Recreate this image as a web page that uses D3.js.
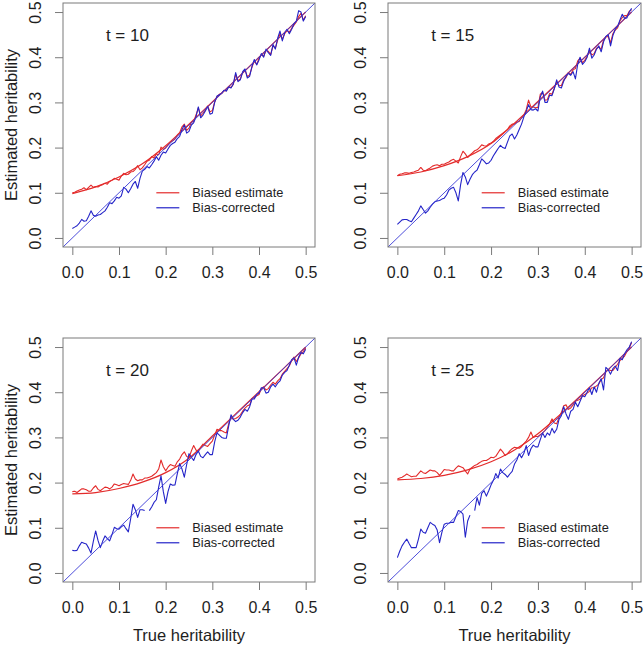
<!DOCTYPE html>
<html><head><meta charset="utf-8">
<script src="https://cdn.jsdelivr.net/npm/d3@7"></script>
<style>html,body{margin:0;padding:0;background:#fff;}svg{display:block;font-family:"Liberation Sans",Arial,sans-serif;}</style>
</head><body><svg id="c" width="644" height="647"></svg>
<script>
// ---- data ----
const panelLabels = ["t = 10", "t = 15", "t = 20", "t = 25"];
const axisTicks = [0.0, 0.1, 0.2, 0.3, 0.4, 0.5];
const smoothX = [0, 0.05, 0.10, 0.15, 0.20, 0.25, 0.30, 0.35, 0.40, 0.45, 0.50];
const noisyX = d3.range(101).map(i => i / 200);

const smooth10 = [0.098, 0.113, 0.135, 0.164, 0.204, 0.252, 0.301, 0.350, 0.400, 0.450, 0.5];
const smooth15 = [0.138, 0.146, 0.160, 0.180, 0.209, 0.254, 0.302, 0.351, 0.400, 0.450, 0.5];
const smooth20 = [0.175, 0.178, 0.187, 0.201, 0.222, 0.254, 0.303, 0.352, 0.401, 0.450, 0.5];
const smooth25 = [0.206, 0.209, 0.216, 0.228, 0.246, 0.272, 0.308, 0.353, 0.401, 0.450, 0.5];

const biased10 = [
 0.100,0.101,0.104,0.106,0.108,0.111,0.107,0.112,0.117,0.112,
 0.114,0.113,0.116,0.118,0.121,0.119,0.125,0.128,0.132,0.130,
 0.128,0.137,0.143,0.140,0.141,0.146,0.147,0.152,0.160,0.151,
 0.155,0.162,0.170,0.172,0.180,0.177,0.186,0.184,0.201,0.196,
 0.199,0.206,0.212,0.215,0.219,0.228,0.233,0.246,0.252,0.238,
 0.243,0.256,0.258,0.272,0.288,0.270,0.276,0.283,0.292,0.279,
 0.282,0.301,0.313,0.318,0.320,0.326,0.326,0.335,0.333,0.340,
 0.362,0.348,0.352,0.366,0.372,0.357,0.361,0.378,0.392,0.384,
 0.397,0.406,0.402,0.415,0.413,0.406,0.425,0.420,0.438,0.452,
 0.440,0.452,0.459,0.455,0.464,0.471,0.478,0.490,0.497,0.482,
 0.492];
const corrected10 = [
 0.021,0.024,0.027,0.033,0.041,0.037,0.038,0.048,0.060,0.050,
 0.048,0.051,0.052,0.056,0.060,0.068,0.078,0.076,0.082,0.090,
 0.088,0.093,0.112,0.108,0.100,0.109,0.119,0.125,0.110,0.132,
 0.148,0.152,0.158,0.155,0.162,0.170,0.180,0.172,0.183,0.190,
 0.188,0.197,0.205,0.209,0.212,0.220,0.225,0.240,0.250,0.232,
 0.236,0.250,0.255,0.268,0.290,0.266,0.272,0.281,0.291,0.274,
 0.276,0.300,0.314,0.317,0.320,0.327,0.325,0.334,0.332,0.341,
 0.366,0.346,0.350,0.368,0.374,0.354,0.358,0.380,0.395,0.383,
 0.394,0.408,0.400,0.418,0.410,0.404,0.428,0.418,0.442,0.458,
 0.436,0.454,0.462,0.452,0.462,0.474,0.480,0.503,0.500,0.480,
 0.490];

const biased15 = [
 0.138,0.141,0.142,0.144,0.144,0.143,0.145,0.146,0.148,0.150,
 0.156,0.150,0.149,0.152,0.155,0.159,0.161,0.162,0.160,0.163,
 0.163,0.166,0.168,0.172,0.174,0.170,0.166,0.180,0.192,0.186,
 0.178,0.184,0.188,0.193,0.195,0.200,0.206,0.204,0.203,0.208,
 0.210,0.214,0.220,0.224,0.228,0.232,0.236,0.240,0.248,0.252,
 0.252,0.256,0.258,0.266,0.272,0.284,0.305,0.290,0.290,0.288,
 0.289,0.318,0.322,0.305,0.306,0.320,0.318,0.332,0.345,0.338,
 0.337,0.350,0.355,0.366,0.362,0.372,0.375,0.392,0.398,0.388,
 0.393,0.402,0.415,0.405,0.408,0.420,0.422,0.418,0.438,0.445,
 0.446,0.432,0.452,0.460,0.465,0.480,0.488,0.492,0.492,0.502,
 0.505];
const corrected15 = [
 0.030,0.035,0.040,0.041,0.041,0.038,0.036,0.044,0.052,0.060,
 0.071,0.063,0.055,0.060,0.068,0.075,0.080,0.082,0.083,0.086,
 0.088,0.095,0.106,0.110,0.112,0.100,0.082,0.118,0.145,0.135,
 0.118,0.130,0.140,0.146,0.150,0.162,0.175,0.170,0.164,0.166,
 0.172,0.182,0.190,0.198,0.205,0.200,0.198,0.212,0.226,0.230,
 0.219,0.228,0.240,0.252,0.268,0.280,0.295,0.284,0.283,0.286,
 0.281,0.312,0.325,0.300,0.300,0.316,0.315,0.330,0.350,0.334,
 0.332,0.347,0.358,0.364,0.360,0.368,0.352,0.385,0.400,0.384,
 0.390,0.400,0.420,0.398,0.405,0.418,0.425,0.412,0.434,0.446,
 0.450,0.425,0.448,0.462,0.468,0.482,0.495,0.486,0.487,0.500,
 0.508];

const biased20 = [
 0.180,0.181,0.178,0.182,0.186,0.186,0.184,0.181,0.181,0.188,
 0.193,0.185,0.182,0.186,0.190,0.189,0.186,0.190,0.197,0.195,
 0.193,0.196,0.198,0.197,0.196,0.205,0.219,0.208,0.204,0.206,
 0.206,0.210,0.210,0.212,0.214,0.218,0.222,0.230,0.250,0.235,
 0.226,0.234,0.240,0.238,0.236,0.246,0.252,0.262,0.268,0.258,
 0.255,0.270,0.282,0.272,0.268,0.278,0.285,0.282,0.280,0.286,
 0.292,0.305,0.318,0.315,0.315,0.312,0.310,0.330,0.345,0.340,
 0.342,0.345,0.350,0.358,0.365,0.370,0.372,0.386,0.388,0.392,
 0.395,0.408,0.412,0.405,0.408,0.416,0.422,0.418,0.425,0.430,
 0.440,0.446,0.452,0.458,0.470,0.478,0.468,0.476,0.485,0.490,
 0.498];
const corrected20 = [
 0.050,0.049,0.050,0.060,0.068,0.066,0.064,0.055,0.044,0.070,
 0.093,0.072,0.056,0.070,0.082,0.076,0.071,0.085,0.101,0.098,
 0.097,0.102,0.106,0.098,0.091,0.120,0.152,0.140,0.123,0.140,
 0.140,0.138,null,0.138,0.146,0.156,0.162,0.190,0.215,0.180,
 0.154,0.180,0.197,0.194,0.195,0.220,0.242,0.230,0.212,0.240,
 0.264,0.256,0.249,0.262,0.270,0.258,0.255,0.262,0.268,0.262,
 0.262,0.290,0.310,0.305,0.300,0.298,0.298,0.325,0.350,0.340,
 0.335,0.338,0.345,0.355,0.362,0.358,0.368,0.385,0.385,0.395,
 0.398,0.410,0.410,0.398,0.400,0.412,0.418,0.412,0.420,0.425,
 0.438,0.444,0.448,0.460,0.472,0.476,0.460,0.478,0.488,0.485,
 0.495];

const biased25 = [
 0.208,0.210,0.212,0.215,0.219,0.216,0.213,0.214,0.214,0.220,
 0.226,0.222,0.220,0.224,0.228,0.226,0.226,0.222,0.216,0.222,
 0.229,0.228,0.228,0.226,0.226,0.232,0.237,0.235,0.233,0.226,
 0.219,0.230,0.234,0.238,0.240,0.244,0.247,0.249,0.249,0.252,
 0.256,0.255,0.258,0.266,0.274,0.268,0.260,0.264,0.270,0.275,
 0.278,0.277,0.276,0.280,0.286,0.292,0.300,0.312,0.300,0.302,
 0.302,0.306,0.310,0.315,0.322,0.330,0.341,0.332,0.330,0.345,
 0.355,0.370,0.372,0.362,0.365,0.372,0.380,0.382,0.385,0.392,
 0.395,0.398,0.402,0.410,0.410,0.414,0.418,0.428,0.432,0.445,
 0.450,0.448,0.448,0.455,0.462,0.470,0.475,0.480,0.490,0.498,
 0.510];
const corrected25 = [
 0.034,0.048,0.060,0.068,0.075,0.065,0.056,0.056,0.056,0.075,
 0.097,0.090,0.088,0.100,0.112,0.108,0.105,0.095,0.067,0.090,
 0.108,0.110,0.110,0.112,0.112,0.125,0.138,0.136,0.130,0.079,
 0.115,0.128,null,0.138,0.167,0.150,0.176,0.182,0.170,0.182,
 0.195,0.205,0.220,0.210,0.230,0.222,0.218,0.212,0.219,0.225,
 0.241,0.250,0.264,0.255,0.265,0.282,0.260,0.275,0.283,0.279,
 0.279,0.295,0.310,0.300,0.310,0.305,0.320,0.310,0.318,0.340,
 0.348,0.368,0.352,0.340,0.358,0.362,0.378,0.368,0.380,0.392,
 0.390,0.400,0.410,0.395,0.412,0.400,0.420,0.430,0.405,0.455,
 0.450,0.440,0.452,0.458,0.448,0.475,0.472,0.485,0.494,0.500,
 0.512];

const legendLabels = ["Biased estimate", "Bias-corrected"];

// ---- drawing ----
const RED = "#e32b2b", BLUE = "#2424c8", AXIS = "#7a7a7a", TEXT = "#1e1e1e";
const svg = d3.select("#c");
const boxes = [
  {l: 63, r: 315, t: 3, b: 247},
  {l: 388, r: 641, t: 3, b: 247},
  {l: 63, r: 315, t: 338, b: 582},
  {l: 388, r: 641, t: 338, b: 582}
];
const panels = [
  {smooth: smooth10, biased: biased10, corrected: corrected10, ylab: true, xlab: false},
  {smooth: smooth15, biased: biased15, corrected: corrected15, ylab: false, xlab: false},
  {smooth: smooth20, biased: biased20, corrected: corrected20, ylab: true, xlab: true},
  {smooth: smooth25, biased: biased25, corrected: corrected25, ylab: false, xlab: true}
];

panels.forEach((p, i) => {
  const bx = boxes[i];
  const x = d3.scaleLinear().domain([-0.02, 0.52]).range([bx.l, bx.r]);
  const y = d3.scaleLinear().domain([-0.02, 0.52]).range([bx.b, bx.t]);
  const g = svg.append("g");
  const clipId = "clip" + i;
  svg.append("clipPath").attr("id", clipId).append("rect")
    .attr("x", bx.l).attr("y", bx.t).attr("width", bx.r - bx.l).attr("height", bx.b - bx.t);
  const plot = g.append("g").attr("clip-path", `url(#${clipId})`);

  const smoothLine = d3.line().x((d, j) => x(smoothX[j])).y(d => y(d)).curve(d3.curveMonotoneX);
  plot.append("path").attr("d", smoothLine(p.smooth))
    .attr("fill", "none").attr("stroke", RED).attr("stroke-width", 1.2);

  const noisyLine = d3.line().defined(d => d !== null).x((d, j) => x(noisyX[j])).y(d => y(d));
  plot.append("path").attr("d", noisyLine(p.biased))
    .attr("fill", "none").attr("stroke", RED).attr("stroke-width", 1.1).attr("stroke-linejoin", "round");
  plot.append("path").attr("d", noisyLine(p.corrected))
    .attr("fill", "none").attr("stroke", BLUE).attr("stroke-width", 1.1).attr("stroke-linejoin", "round");

  // diagonal y = x
  plot.append("line")
    .attr("x1", x(-0.02)).attr("y1", y(-0.02)).attr("x2", x(0.52)).attr("y2", y(0.52))
    .attr("stroke", "#3a3ad6").attr("stroke-width", 0.9);

  // box
  g.append("rect").attr("x", bx.l).attr("y", bx.t).attr("width", bx.r - bx.l).attr("height", bx.b - bx.t)
    .attr("fill", "none").attr("stroke", AXIS).attr("stroke-width", 1);

  // x axis
  const xa = g.append("g").attr("transform", `translate(0,${bx.b})`)
    .call(d3.axisBottom(x).tickValues(axisTicks).tickSize(8).tickPadding(12).tickFormat(d3.format(".1f")));
  xa.select(".domain").remove();
  xa.selectAll("line").attr("stroke", AXIS);
  xa.selectAll("text").attr("font-size", 16).attr("fill", TEXT).attr("font-family", "Liberation Sans, Arial, sans-serif");

  // y axis
  const ya = g.append("g").attr("transform", `translate(${bx.l},0)`)
    .call(d3.axisLeft(y).tickValues(axisTicks).tickSize(8).tickFormat(d3.format(".1f")));
  ya.select(".domain").remove();
  ya.selectAll("line").attr("stroke", AXIS);
  ya.selectAll("text")
    .attr("font-size", 16).attr("fill", TEXT).attr("font-family", "Liberation Sans, Arial, sans-serif")
    .attr("x", null).attr("dy", null)
    .attr("text-anchor", "middle").attr("dominant-baseline", "central")
    .attr("transform", "translate(-28,0) rotate(-90)");

  // panel label
  g.append("text").attr("x", x(0.118)).attr("y", y(0.449))
    .attr("text-anchor", "middle").attr("dominant-baseline", "central")
    .attr("font-size", 17).attr("fill", TEXT).text(panelLabels[i]);

  // legend
  const lx = x(0.18), ly = y(0.10);
  [RED, BLUE].forEach((c, k) => {
    g.append("line").attr("x1", lx).attr("x2", lx + 23).attr("y1", ly + k * 15).attr("y2", ly + k * 15)
      .attr("stroke", c).attr("stroke-width", 1.2);
    g.append("text").attr("x", lx + 36).attr("y", ly + k * 15).attr("dominant-baseline", "central")
      .attr("font-size", 12.8).attr("fill", TEXT).text(legendLabels[k]);
  });

  if (p.ylab) {
    g.append("text").attr("transform", `translate(11,${(bx.t + bx.b) / 2}) rotate(-90)`)
      .attr("text-anchor", "middle").attr("dominant-baseline", "central")
      .attr("font-size", 16.5).attr("fill", TEXT).text("Estimated heritability");
  }
  if (p.xlab) {
    g.append("text").attr("x", (bx.l + bx.r) / 2).attr("y", bx.b + 53)
      .attr("text-anchor", "middle").attr("dominant-baseline", "central")
      .attr("font-size", 16.5).attr("fill", TEXT).text("True heritability");
  }
});
</script></body></html>
